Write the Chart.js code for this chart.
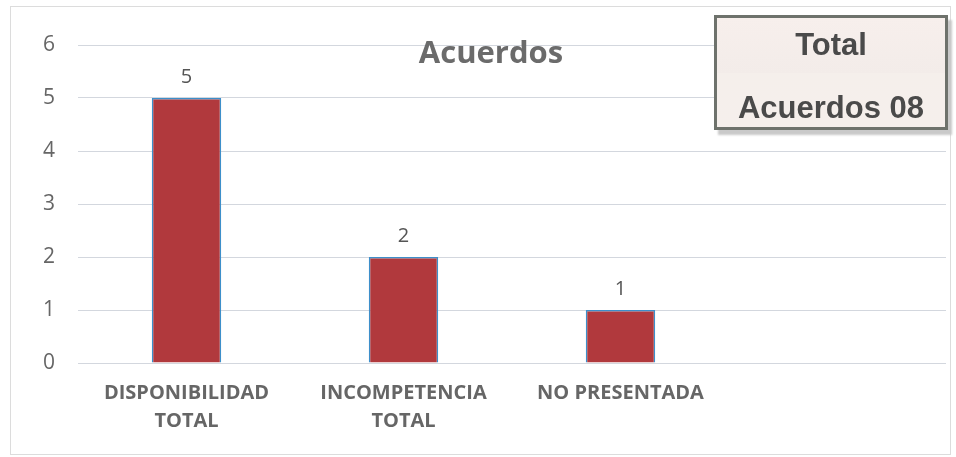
<!DOCTYPE html>
<html><head><meta charset="utf-8">
<script src="https://cdn.jsdelivr.net/npm/chart.js@4"></script>
<style>
html,body{margin:0;padding:0;background:#fff;}
#wrap{position:relative;width:956px;height:457px;}
#box{position:absolute;left:714px;top:15px;width:228px;height:109px;border:3px solid #6e726c;
 background:linear-gradient(#f7efec,#f3ece9 50%,#f5efeb 50%,#f5efec);box-shadow:4px 5px 2px #c9c9c9;
 font-family:"Liberation Sans",Arial,sans-serif;font-weight:bold;color:#4a4a4a;text-align:center;}
#box div{position:absolute;left:0;width:228px;height:40px;line-height:40px;font-size:31px;}
</style></head>
<body><div id="wrap"><canvas id="c" width="956" height="457"></canvas>
<div id="box"><div style="top:7px">Total</div><div style="top:70px">Acuerdos 08</div></div></div>
<script>
const categories = [["DISPONIBILIDAD","TOTAL"],["INCOMPETENCIA","TOTAL"],"NO PRESENTADA",""];
const values = [5, 2, 1, null];
const yTicks = [0,1,2,3,4,5,6];
const chartTitle = "Acuerdos";

const extras = {
  id:'extras',
  beforeDraw(chart){
    const ctx = chart.ctx;
    ctx.save();
    ctx.strokeStyle = '#dcdcdc'; ctx.lineWidth = 1;
    ctx.strokeRect(10.5, 6.5, 940, 448);
    ctx.restore();
  },
  afterDatasetsDraw(chart){
    const ctx = chart.ctx;
    const meta = chart.getDatasetMeta(0);
    ctx.save();
    ctx.font = '20px "Open Sans", sans-serif';
    ctx.fillStyle = '#555'; ctx.textAlign = 'center'; ctx.textBaseline = 'bottom';
    meta.data.forEach((bar,i)=>{
      if(values[i]==null) return;
      ctx.fillText(String(values[i]), bar.x, bar.y - 11);
    });
    ctx.font = 'bold 31px "Open Sans", sans-serif';
    ctx.fillStyle = '#6b6b6b'; ctx.textBaseline = 'middle';
    ctx.fillText(chartTitle, 491, 54);
    ctx.restore();
  }
};

new Chart(document.getElementById('c'), {
  type:'bar',
  data:{labels:categories, datasets:[{data:values, backgroundColor:'#b1393d', borderColor:'#3d8fca', borderWidth:1.5,
     categoryPercentage:1, barPercentage:0.32}]},
  options:{
    responsive:false, animation:false, devicePixelRatio:1,
    layout:{padding:{left:10,right:10,top:45,bottom:6}},
    plugins:{legend:{display:false}, tooltip:{enabled:false}, title:{display:false}},
    scales:{
      x:{grid:{display:false, drawTicks:false}, border:{display:false},
         ticks:{color:'#666', font:{family:'"Open Sans", sans-serif', weight:'bold', size:20, lineHeight:1.4}, padding:16, maxRotation:0, autoSkip:false},
         afterFit(s){ s.height = 88; }},
      y:{min:0,max:6, grid:{color:'#d3d7de', drawTicks:false}, border:{display:false},
         afterBuildTicks(s){ s.ticks = yTicks.map(v=>({value:v})); },
         ticks:{color:'#666', font:{family:'"Open Sans", sans-serif', size:21}, padding:23},
         afterFit(s){ s.width = 68; }}
    }
  },
  plugins:[extras]
});
</script></body></html>
